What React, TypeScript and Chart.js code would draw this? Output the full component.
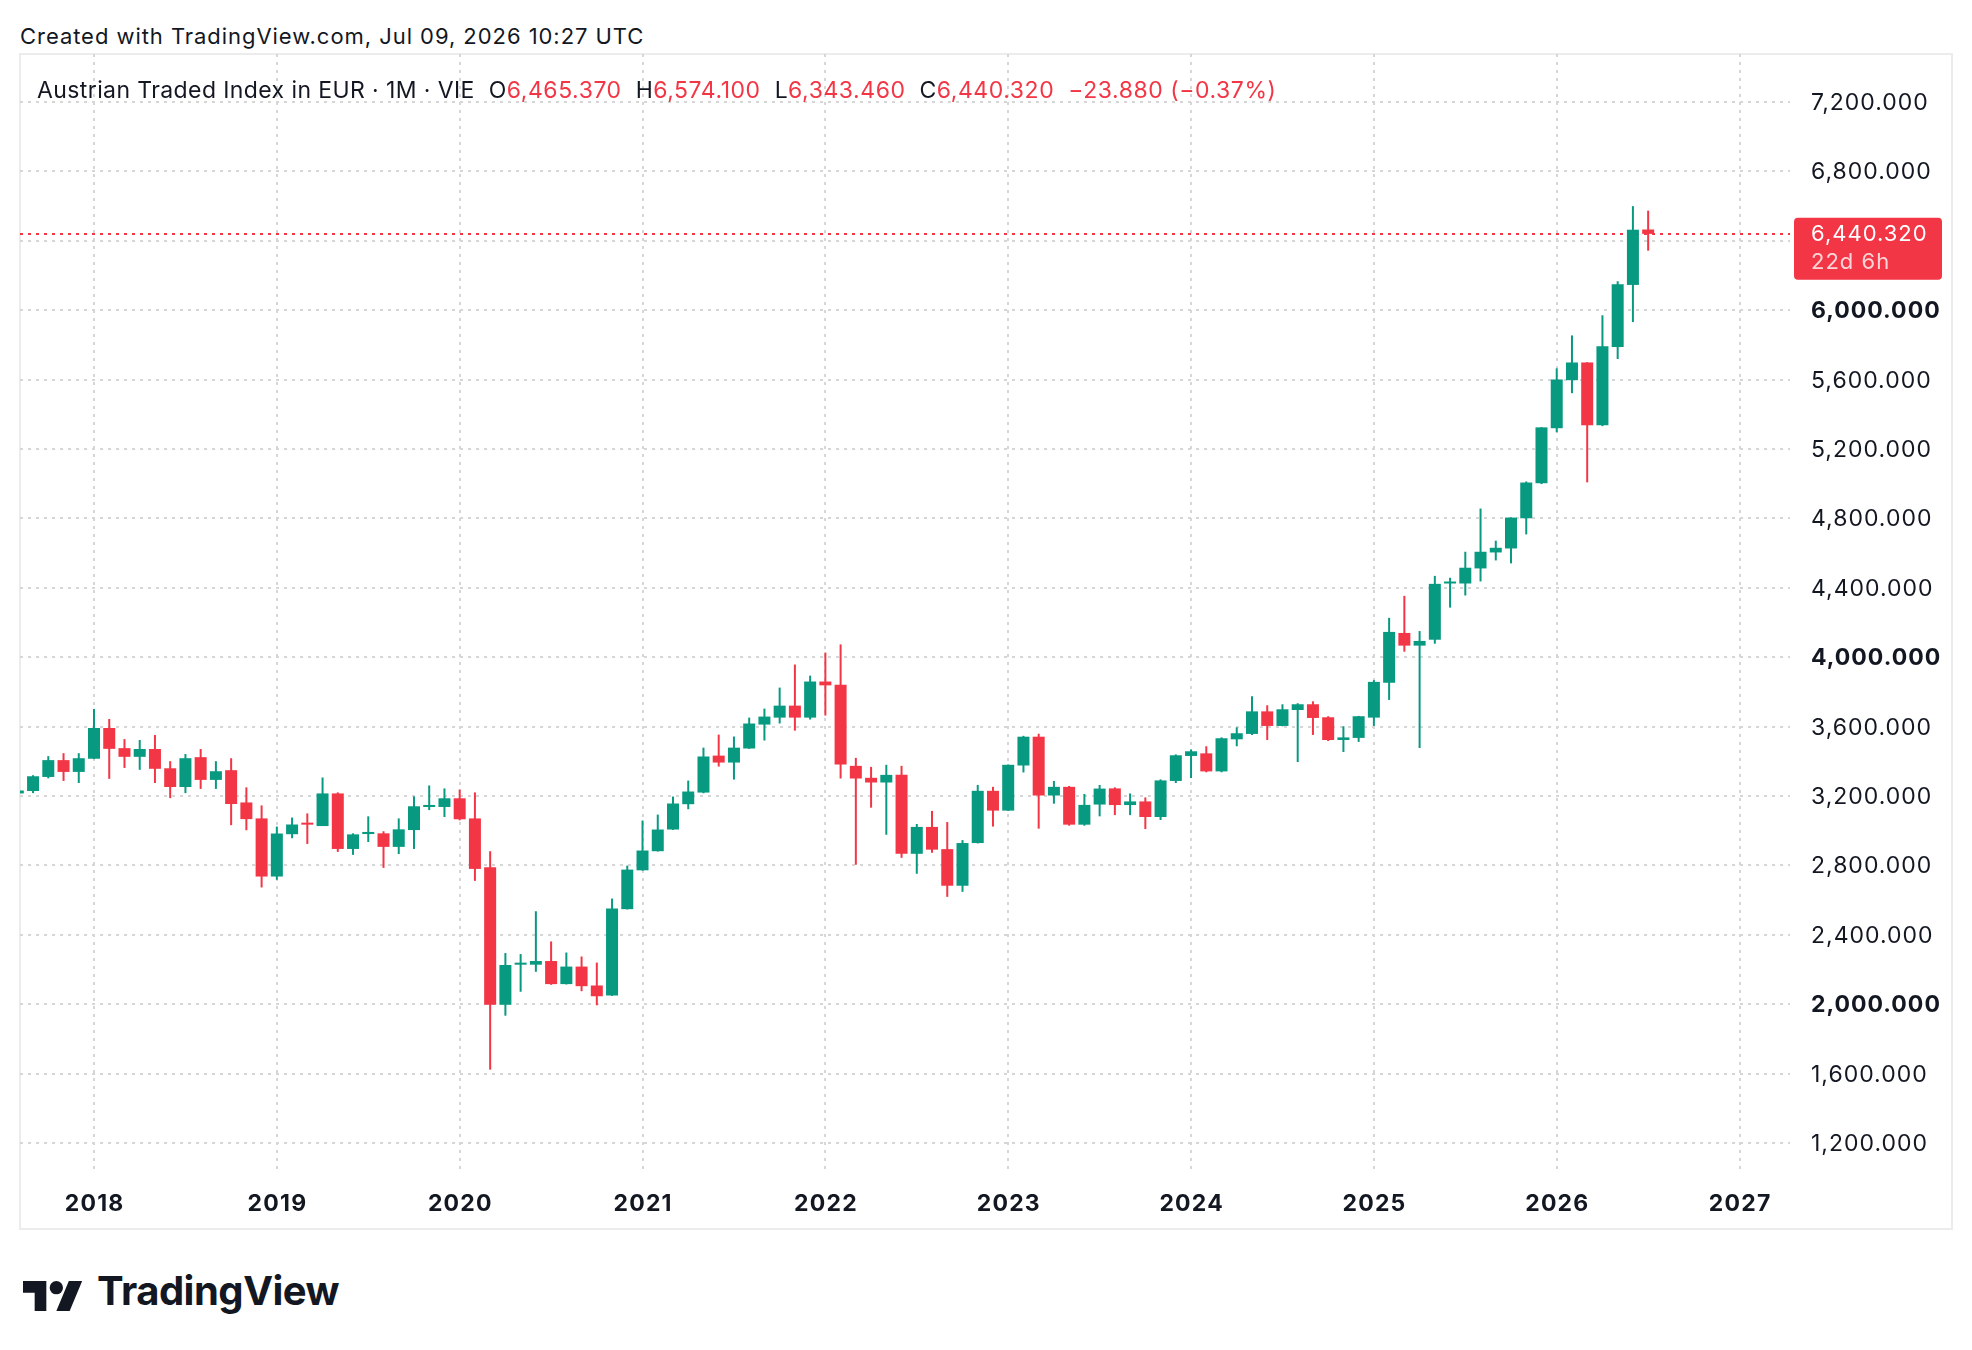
import React, { useEffect, useRef } from 'react';
import { Chart, registerables } from 'chart.js';

Chart.register(...registerables);

const FONT = 'Inter, "Noto Sans", Roboto, sans-serif';
const TEXT = '#131722';
const UP = '#089981';
const DOWN = '#f23645';
const GRID = '#d6d6d6';
const PANEL_BORDER = '#ececec';

// Monthly bars, first bar = August 2017
const FIRST_YEAR = 2017;
const FIRST_MONTH = 8;

const OPEN = [
  3215, 3229, 3310, 3407, 3339, 3415, 3592, 3476, 3426, 3471, 3360, 3252,
  3424, 3293, 3349, 3163, 3071, 2736, 2980, 3045, 3027, 3215, 2895, 2981,
  2985, 2907, 3004, 3137, 3137, 3187, 3071, 2790, 1997, 2228, 2228, 2249,
  2116, 2217, 2108, 2050, 2548, 2772, 2882, 3007, 3153, 3220, 3433, 3393,
  3474, 3612, 3652, 3721, 3652, 3860, 3842, 3374, 3305, 3278, 3322, 2867,
  3022, 2894, 2683, 2929, 3230, 3116, 3376, 3542, 3203, 3253, 3035, 3151,
  3244, 3148, 3169, 3079, 3287, 3431, 3446, 3342, 3527, 3558, 3688, 3604,
  3696, 3729, 3654, 3523, 3535, 3652, 3853, 4140, 4067, 4101, 4425, 4425,
  4512, 4604, 4627, 4801, 5003, 5320, 5597, 5699, 5337, 5788, 6146, 6465.37,
];
const HIGH = [
  3236, 3320, 3430, 3447, 3447, 3702, 3644, 3528, 3523, 3552, 3401, 3442,
  3471, 3401, 3418, 3250, 3146, 3024, 3076, 3100, 3307, 3221, 2985, 3083,
  2997, 3071, 3198, 3261, 3244, 3238, 3221, 2882, 2295, 2289, 2536, 2362,
  2298, 2275, 2240, 2609, 2799, 3059, 3093, 3197, 3289, 3479, 3554, 3543,
  3652, 3704, 3825, 3958, 3894, 4027, 4074, 3420, 3368, 3380, 3374, 3039,
  3114, 3050, 2946, 3264, 3253, 3382, 3547, 3559, 3287, 3258, 3212, 3264,
  3250, 3215, 3192, 3296, 3440, 3469, 3487, 3538, 3596, 3775, 3723, 3729,
  3735, 3746, 3660, 3602, 3662, 3868, 4227, 4354, 4151, 4469, 4458, 4608,
  4857, 4672, 4806, 5013, 5326, 5665, 5855, 5701, 5971, 6167, 6600, 6574.1,
];
const LOW = [
  3208, 3217, 3302, 3287, 3275, 3413, 3299, 3362, 3351, 3275, 3188, 3217,
  3241, 3241, 3032, 3003, 2673, 2717, 2957, 2924, 3027, 2878, 2861, 2935,
  2786, 2866, 2895, 3119, 3079, 3060, 2711, 1623, 1934, 2072, 2187, 2112,
  2114, 2075, 1994, 2048, 2546, 2770, 2880, 3005, 3124, 3216, 3370, 3295,
  3472, 3520, 3618, 3577, 3641, 3664, 3301, 2804, 3133, 2977, 2844, 2752,
  2873, 2619, 2648, 2927, 3024, 3114, 3336, 3012, 3156, 3029, 3029, 3083,
  3090, 3090, 3010, 3062, 3275, 3304, 3337, 3337, 3487, 3552, 3523, 3602,
  3396, 3552, 3517, 3454, 3512, 3604, 3754, 4032, 3477, 4078, 4286, 4356,
  4437, 4558, 4541, 4708, 4998, 5297, 5522, 5008, 5332, 5719, 5932, 6343.46,
];
const CLOSE = [
  3232, 3314, 3407, 3339, 3418, 3592, 3472, 3426, 3471, 3357, 3252, 3418,
  3293, 3343, 3154, 3067, 2736, 2984, 3036, 3035, 3215, 2895, 2979, 2993,
  2907, 3008, 3141, 3148, 3187, 3066, 2780, 1997, 2226, 2237, 2249, 2116,
  2217, 2104, 2046, 2552, 2776, 2886, 3007, 3157, 3226, 3428, 3393, 3479,
  3618, 3658, 3721, 3652, 3860, 3838, 3382, 3301, 3278, 3322, 2867, 3022,
  2891, 2683, 2929, 3230, 3116, 3380, 3542, 3203, 3253, 3035, 3149, 3243,
  3148, 3169, 3079, 3290, 3435, 3458, 3342, 3533, 3562, 3688, 3604, 3700,
  3729, 3650, 3523, 3538, 3660, 3858, 4146, 4067, 4094, 4423, 4435, 4516,
  4608, 4631, 4805, 5007, 5325, 5601, 5699, 5337, 5792, 6150, 6464.2, 6440.32,
];

const YEAR_LABELS = ['2018', '2019', '2020', '2021', '2022', '2023', '2024', '2025', '2026', '2027'];
const PRICE_TICKS = [1200, 1600, 2000, 2400, 2800, 3200, 3600, 4000, 4400, 4800, 5200, 5600, 6000, 6400, 6800, 7200];
const BOLD_PRICE_TICKS = [2000, 4000, 6000];

const SYMBOL = 'Austrian Traded Index in EUR · 1M · VIE';
const CREATED = 'Created with TradingView.com, Jul 09, 2026 10:27 UTC';
const COUNTDOWN = '22d 6h';

// visible window of the time and price axes
const X_MIN = 0.143;
const X_MAX = 116.31;
const Y_MIN = 1033;
const Y_MAX = 7477;

const monthIndex = (year: number, month: number) => (year - FIRST_YEAR) * 12 + (month - FIRST_MONTH);
const YEAR_TICK_INDEX = YEAR_LABELS.map((y) => monthIndex(Number(y), 1));

const fmt = (v: number) =>
  v.toLocaleString('en-US', { minimumFractionDigits: 3, maximumFractionDigits: 3 });
const signed = (v: number, digits = 3) =>
  (v < 0 ? '\u2212' : '+') +
  Math.abs(v).toLocaleString('en-US', { minimumFractionDigits: digits, maximumFractionDigits: digits });

const LAST = CLOSE.length - 1;
const CHANGE = CLOSE[LAST] - CLOSE[LAST - 1];
const CHANGE_PCT = (CHANGE / CLOSE[LAST - 1]) * 100;

const CANVAS_LEFT = 20;
const CANVAS_TOP = 54;
const CANVAS_W = 1932;
const CANVAS_H = 1175;
const PRICE_AXIS_W = 162;
const TIME_AXIS_H = 57;

// price badge geometry relative to the last close
const BADGE_UP = 16;
const BADGE_H = 62;

// axis labels and the last-price badge, placed with the chart's own scales
const axisLabelsPlugin = {
  id: 'axisLabels',
  afterDraw(chart: any) {
    const { ctx, chartArea, scales } = chart;
    const lastY = scales.y.getPixelForValue(CLOSE[LAST]);
    ctx.save();
    ctx.letterSpacing = '1px';
    ctx.fillStyle = TEXT;

    // price scale
    ctx.textAlign = 'left';
    ctx.textBaseline = 'middle';
    PRICE_TICKS.forEach((v) => {
      const y = scales.y.getPixelForValue(v);
      if (y > lastY - BADGE_UP - 14 && y < lastY - BADGE_UP + BADGE_H + 14) return;
      ctx.font = `${BOLD_PRICE_TICKS.includes(v) ? 700 : 400} 23px ${FONT}`;
      ctx.fillText(fmt(v), chartArea.right + 21, y + 1);
    });

    // time scale
    ctx.letterSpacing = '1.2px';
    ctx.textAlign = 'center';
    ctx.font = `700 23px ${FONT}`;
    YEAR_TICK_INDEX.forEach((v, i) => {
      const x = scales.x.getPixelForValue(v);
      ctx.fillText(YEAR_LABELS[i], x + 0.6, chartArea.bottom + 32);
    });

    // last price badge
    ctx.letterSpacing = '1px';
    ctx.fillStyle = DOWN;
    ctx.beginPath();
    ctx.roundRect(chartArea.right + 4, lastY - BADGE_UP, 148, BADGE_H, 4);
    ctx.fill();
    ctx.textAlign = 'left';
    ctx.font = `400 22px ${FONT}`;
    ctx.fillStyle = '#ffffff';
    ctx.fillText(fmt(CLOSE[LAST]), chartArea.right + 21, lastY + 1);
    ctx.fillStyle = 'rgba(255,255,255,0.78)';
    ctx.fillText(COUNTDOWN, chartArea.right + 21, lastY + 29);
    ctx.restore();
  },
};

// dotted line at the last close, under the candles
const lastPriceLinePlugin = {
  id: 'lastPriceLine',
  beforeDatasetsDraw(chart: any) {
    const { ctx, chartArea, scales } = chart;
    const y = Math.round(scales.y.getPixelForValue(CLOSE[LAST]));
    ctx.save();
    ctx.strokeStyle = DOWN;
    ctx.lineWidth = 2;
    ctx.setLineDash([3, 5]);
    ctx.beginPath();
    ctx.moveTo(chartArea.left, y);
    ctx.lineTo(chartArea.right, y);
    ctx.stroke();
    ctx.restore();
  },
};

function CandleChart() {
  const ref = useRef<HTMLCanvasElement | null>(null);

  useEffect(() => {
    if (!ref.current) return;
    const colors = CLOSE.map((c, i) => (c >= OPEN[i] ? UP : DOWN));
    const chart = new Chart(ref.current, {
      type: 'bar',
      data: {
        datasets: [
          {
            label: 'wicks',
            data: LOW.map((l, i) => ({ x: i, y: [l, HIGH[i]] })) as any,
            backgroundColor: colors,
            barThickness: 2,
            grouped: false,
            borderWidth: 0,
            inflateAmount: 0,
            order: 2,
          } as any,
          {
            label: 'bodies',
            data: OPEN.map((o, i) => ({ x: i, y: [o, CLOSE[i]] })) as any,
            backgroundColor: colors,
            barThickness: 12,
            minBarLength: 2,
            grouped: false,
            borderWidth: 0,
            inflateAmount: 0,
            order: 1,
          } as any,
        ],
      },
      options: {
        animation: false,
        responsive: false,
        maintainAspectRatio: false,
        devicePixelRatio: 1,
        layout: { padding: 0 },
        events: [],
        plugins: {
          legend: { display: false },
          tooltip: { enabled: false },
        },
        scales: {
          x: {
            type: 'linear',
            min: X_MIN,
            max: X_MAX,
            offset: false,
            grid: { color: GRID, lineWidth: 2, drawTicks: false, offset: false },
            border: { display: false, dash: [3, 5] },
            ticks: { display: false },
            afterBuildTicks: (scale: any) => {
              scale.ticks = YEAR_TICK_INDEX.map((v) => ({ value: v }));
            },
            afterFit: (scale: any) => {
              scale.height = TIME_AXIS_H;
              scale.paddingLeft = 0;
              scale.paddingRight = 0;
            },
          },
          y: {
            type: 'linear',
            position: 'right',
            min: Y_MIN,
            max: Y_MAX,
            grid: { color: GRID, lineWidth: 2, drawTicks: false },
            border: { display: false, dash: [3, 5] },
            ticks: { display: false },
            afterBuildTicks: (scale: any) => {
              scale.ticks = PRICE_TICKS.map((v) => ({ value: v }));
            },
            afterFit: (scale: any) => {
              scale.width = PRICE_AXIS_W;
              scale.paddingTop = 0;
              scale.paddingBottom = 0;
            },
          },
        },
      } as any,
      plugins: [lastPriceLinePlugin, axisLabelsPlugin],
    });
    return () => chart.destroy();
  }, []);

  return (
    <canvas
      ref={ref}
      width={CANVAS_W}
      height={CANVAS_H}
      style={{ position: 'absolute', left: CANVAS_LEFT, top: CANVAS_TOP, width: CANVAS_W, height: CANVAS_H }}
    />
  );
}

function Logo() {
  return (
    <div style={{ position: 'absolute', left: 23, top: 1266, display: 'flex', alignItems: 'center' }}>
      <svg width={60} height={30} viewBox="0 4 36 18" style={{ marginTop: 10 }}>
        <path d="M14 22H7V11H0V4h14v18zM28 22h-8l7.5-18h8L28 22z" fill={TEXT} />
        <circle cx={20} cy={8} r={4} fill={TEXT} />
      </svg>
      <span
        style={{
          marginLeft: 14,
          font: `700 40px ${FONT}`,
          color: TEXT,
          letterSpacing: -0.5,
          lineHeight: 'normal',
        }}
      >
        TradingView
      </span>
    </div>
  );
}

export default function App() {
  const gap = 14;
  const value = { color: DOWN, letterSpacing: 0.55 };
  return (
    <div
      style={{
        position: 'fixed',
        left: 0,
        top: 0,
        width: 1972,
        height: 1350,
        background: '#ffffff',
        overflow: 'hidden',
        fontFamily: FONT,
        color: TEXT,
      }}
    >
      <div
        style={{
          position: 'absolute',
          left: 20,
          top: 23,
          font: `400 22px ${FONT}`,
          letterSpacing: 0.95,
          lineHeight: 'normal',
          whiteSpace: 'pre',
        }}
      >
        {CREATED}
      </div>
      <div
        style={{
          position: 'absolute',
          left: 19,
          top: 53,
          width: 1934,
          height: 1177,
          boxSizing: 'border-box',
          border: `2px solid ${PANEL_BORDER}`,
        }}
      />
      <CandleChart />
      <div
        style={{
          position: 'absolute',
          left: 37,
          top: 76,
          font: `400 23px ${FONT}`,
          letterSpacing: 0.4,
          lineHeight: 'normal',
          whiteSpace: 'pre',
          color: TEXT,
        }}
      >
        <span>{SYMBOL}</span>
        <span style={{ marginLeft: gap }}>O</span>
        <span style={value}>{fmt(OPEN[LAST])}</span>
        <span style={{ marginLeft: gap }}>H</span>
        <span style={value}>{fmt(HIGH[LAST])}</span>
        <span style={{ marginLeft: gap }}>L</span>
        <span style={value}>{fmt(LOW[LAST])}</span>
        <span style={{ marginLeft: gap }}>C</span>
        <span style={value}>{fmt(CLOSE[LAST])}</span>
        <span style={{ ...value, marginLeft: gap }}>
          {signed(CHANGE)} ({signed(CHANGE_PCT, 2)}%)
        </span>
      </div>
      <Logo />
    </div>
  );
}
